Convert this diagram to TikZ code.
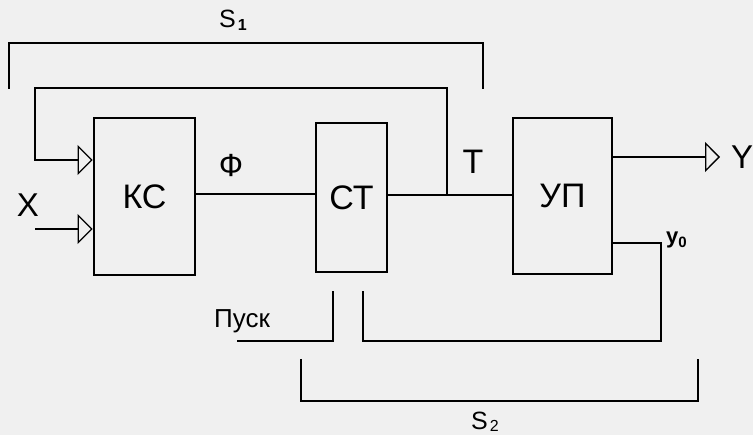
\documentclass[tikz,border=0pt]{standalone}
\usepackage{fontspec}
\setmainfont{Liberation Sans}
\usetikzlibrary{arrows.meta}
\newcommand{\fs}[1]{\fontsize{#1}{#1}\selectfont}
\begin{document}
\begin{tikzpicture}[x=1pt,y=-1pt,
  blk/.style={draw,line width=2.8pt,inner sep=0pt},
  wire/.style={line width=1.3pt},
  inarrow/.style={wire,-{Triangle[open,length=15pt,width=30pt,line width=1.3pt]}},
  lbl/.style={inner sep=0pt}]
\fill[gray!12] (0,0) rectangle (753,435);
\useasboundingbox (0,0) rectangle (753,435);
% blocks
\node[blk,minimum width=101pt,minimum height=157pt] (KS) at (144.5,196.5) {\fs{34}КС};
\node[blk,minimum width=71pt,minimum height=149pt] (ST) at (351.5,197.5) {\fs{34}СТ};
\node[blk,minimum width=99pt,minimum height=156pt] (UP) at (562.5,196) {\fs{34}УП};
% points
\coordinate (J) at (447,195);
\coordinate (F1) at (447,88);
\coordinate (F2) at (35,88);
\coordinate (F3) at (35,160);
\coordinate (Xin) at (35,229);
\coordinate (Yout) at (720,157);
\coordinate (Y0a) at (661,243);
\coordinate (Y0b) at (661,341);
\coordinate (Y0c) at (363,341);
\coordinate (Y0d) at (363,291);
\coordinate (Pa) at (237,341);
\coordinate (Pb) at (333,341);
\coordinate (Pc) at (333,291);
% connectors
\draw[wire] (KS.east |- 0,194) -- (ST.west |- 0,194);
\draw[wire] (ST.east |- J) -- (UP.west |- J);
\draw[inarrow] (J) -- (F1) -- (F2) -- (F3) -- (KS.west |- F3);
\draw[inarrow] (Xin) -- (KS.west |- Xin);
\draw[inarrow] (UP.east |- Yout) -- (Yout);
\draw[wire] (UP.east |- Y0a) -- (Y0a) -- (Y0b) -- (Y0c) -- (Y0d);
\draw[wire] (Pa) -- (Pb) -- (Pc);
% brackets
\draw[wire] (9,89) -- (9,43) -- (483,43) -- (483,89);
\draw[wire] (301,359) -- (301,401) -- (698,401) -- (698,359);
% labels
\node[lbl,anchor=base west] (s1) at (219,28) {\fs{25}S\raisebox{-0.2ex}{\hspace{2pt}\fs{16}\bfseries 1}};
\node[lbl,anchor=base west] (s2) at (471,430) {\fs{25}S\raisebox{-0.1ex}{\hspace{2pt}\fs{16}2}};
\node[lbl] (phi) at (231,166) {\fs{32}Ф};
\node[lbl] (T) at (473,162) {\fs{34}Т};
\node[lbl] (X) at (28,205) {\fs{33}X};
\node[lbl] (Y) at (742,157) {\fs{33}Y};
\node[lbl,anchor=base west] (pusk) at (214,328) {\fs{26}Пуск};
\node[lbl,anchor=base west] (y0) at (666,244) {\fs{22}\bfseries y\raisebox{-0.3ex}{\fs{15}0}};
\end{tikzpicture}
\end{document}
